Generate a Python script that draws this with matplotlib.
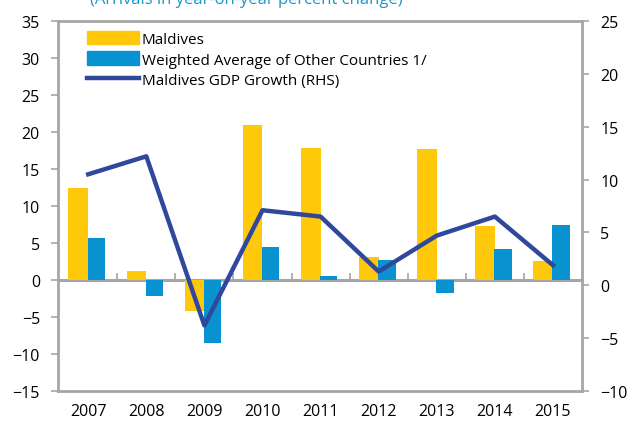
import numpy as np
import matplotlib.pyplot as plt
from matplotlib.patches import Patch
from matplotlib.lines import Line2D

years = ['2007', '2008', '2009', '2010', '2011', '2012', '2013', '2014', '2015']
maldives = [12.5, 1.2, -4.2, 21.0, 17.8, 3.1, 17.7, 7.3, 2.6]
other_avg = [5.7, -2.2, -8.5, 4.5, 0.6, 2.7, -1.8, 4.2, 7.4]
gdp_growth = [10.5, 12.2, -3.8, 7.1, 6.5, 1.3, 4.7, 6.5, 1.9]

yellow = '#FFC80A'
blue = '#0892D0'
navy = '#2F489C'
gray = '#A6A6A6'

plt.rcParams['font.family'] = ['Open Sans', 'DejaVu Sans']

fig = plt.figure(figsize=(6.32, 4.27), dpi=100)
ax = fig.add_axes([58 / 632, 1 - 392 / 427, 524 / 632, 370 / 427])

x = np.arange(len(years))
w = 0.34
ax.bar(x - w / 2, maldives, width=w, color=yellow, zorder=2)
ax.bar(x + w / 2 - 0.03, other_avg, width=w - 0.04, color=blue, zorder=2)

ax.set_xlim(-0.52, 8.5)
ax.set_ylim(-15, 35)
ax.set_yticks(np.arange(-15, 36, 5))
ax.set_xticks(x)
ax.set_xticklabels(years)
ax.tick_params(axis='x', length=0, pad=9, labelsize=11.5)
ax.tick_params(axis='y', length=5, width=1.2, color=gray, labelsize=11.5, pad=8)
for s in ax.spines.values():
    s.set_color(gray)
    s.set_linewidth(2)

# zero line with category-boundary ticks pointing up
zero = ax.secondary_xaxis(15 / 50)
zero.set_xticks(np.arange(0.5, 8, 1))
zero.tick_params(direction='in', length=5, width=1.2, color=gray, labelbottom=False)
zero.spines['bottom'].set_color(gray)
zero.spines['bottom'].set_linewidth(2.2)

ax2 = ax.twinx()
ax2.plot(x, gdp_growth, color=navy, linewidth=3.2, zorder=3)
ax2.set_ylim(-10, 25)
ax2.set_yticks(np.arange(-10, 26, 5))
ax2.tick_params(axis='y', length=5, width=1.2, color=gray, labelsize=11.5, pad=8)
for s in ax2.spines.values():
    s.set_visible(False)

handles = [Patch(color=yellow), Patch(color=blue), Line2D([], [], color=navy, linewidth=3.2)]
labels = ['Maldives', 'Weighted Average of Other Countries 1/', 'Maldives GDP Growth (RHS)']
ax2.legend(handles, labels, loc='upper left', bbox_to_anchor=(0.043, 0.99), frameon=False,
           fontsize=11, handlelength=3.4, handleheight=1.0, handletextpad=0.2,
           labelspacing=0.3, borderaxespad=0)

fig.text(0.39, 1.0, '(Arrivals in year-on-year percent change)', color='#1E96C8',
         fontsize=12, ha='center', va='center')

fig.savefig('out.png', dpi=100)
